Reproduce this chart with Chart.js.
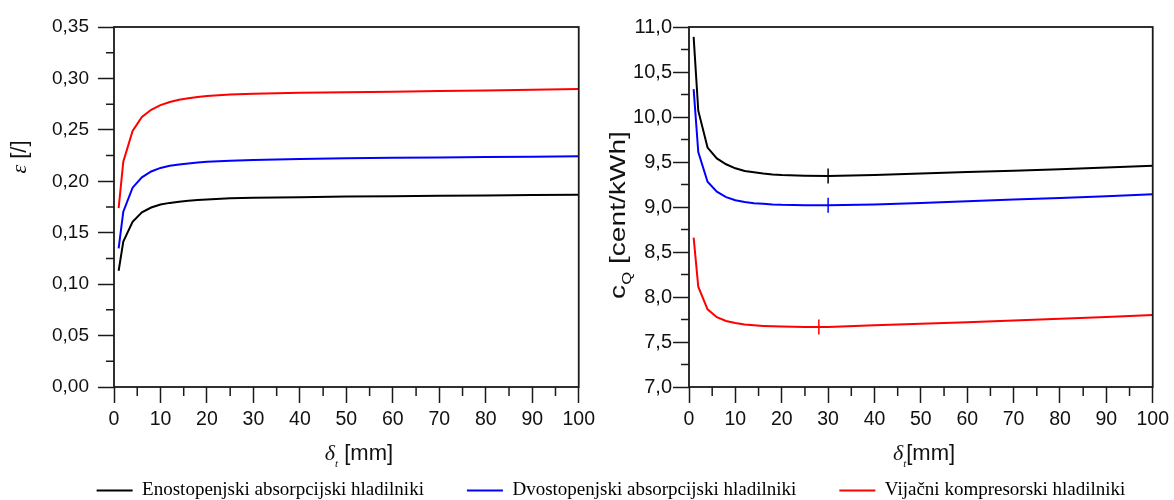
<!DOCTYPE html>
<html><head><meta charset="utf-8">
<script src="https://cdn.jsdelivr.net/npm/chart.js@4.4.1/dist/chart.umd.min.js"></script>
<style>
html,body{margin:0;padding:0;background:#fff;width:1174px;height:500px;overflow:hidden;position:relative;}
canvas{position:absolute;}
</style></head><body>
<canvas id="c1" width="600" height="470" style="left:0;top:0;width:600px;height:470px"></canvas>
<canvas id="c2" width="587" height="470" style="left:587px;top:0;width:587px;height:470px"></canvas>
<canvas id="c3" width="1174" height="150" style="left:0;top:438px;width:1174px;height:150px"></canvas>
<script>
// ---- data ----
const seriesNames = ['Enostopenjski absorpcijski hladilniki', 'Dvostopenjski absorpcijski hladilniki', 'Vijačni kompresorski hladilniki'];
const seriesColors = ['#000000', '#0000ff', '#ff0000'];
const xValues = [1, 2, 4, 6, 8, 10, 12, 14, 16, 18, 20, 25, 30, 40, 50, 60, 70, 80, 90, 100];
const epsSingle = [0.113, 0.1413, 0.1607, 0.1698, 0.1745, 0.1775, 0.1790, 0.1802, 0.1810, 0.1818, 0.1824, 0.1834, 0.1840, 0.1846, 0.1851, 0.1855, 0.1859, 0.1863, 0.1866, 0.1870];
const epsDouble = [0.1348, 0.1705, 0.1938, 0.2038, 0.2095, 0.2130, 0.2150, 0.2163, 0.2173, 0.2182, 0.2189, 0.2199, 0.2207, 0.2216, 0.2223, 0.2228, 0.2232, 0.2236, 0.2239, 0.2243];
const epsScrew = [0.174, 0.219, 0.249, 0.2625, 0.2695, 0.274, 0.277, 0.2792, 0.2808, 0.282, 0.2828, 0.2843, 0.2852, 0.2860, 0.2866, 0.2871, 0.2877, 0.2883, 0.289, 0.2897];
const cqSingle = [10.89, 10.07, 9.66, 9.54, 9.475, 9.43, 9.40, 9.385, 9.372, 9.362, 9.355, 9.348, 9.345, 9.355, 9.372, 9.388, 9.403, 9.42, 9.44, 9.459];
const cqDouble = [10.31, 9.61, 9.28, 9.17, 9.11, 9.075, 9.055, 9.043, 9.035, 9.028, 9.024, 9.02, 9.019, 9.027, 9.045, 9.063, 9.082, 9.10, 9.12, 9.141];
const cqScrew = [8.66, 8.115, 7.863, 7.775, 7.733, 7.71, 7.695, 7.686, 7.679, 7.674, 7.671, 7.668, 7.667, 7.685, 7.703, 7.72, 7.738, 7.758, 7.778, 7.80];
const optX = [30, 30, 28];
const optY = [9.345, 9.019, 7.667];
const xTicksMajor = [0, 10, 20, 30, 40, 50, 60, 70, 80, 90, 100];

// ---- helpers ----
const pts = (ys) => xValues.map((x, i) => ({x: x, y: ys[i]}));
const SANS = "'Liberation Sans', Arial, sans-serif";
const SERIF = "'Liberation Serif', 'Times New Roman', serif";

function drawParts(ctx, parts, cx, baseY) {
  let total = 0;
  parts.forEach(p => { ctx.font = p.font; p.w = ctx.measureText(p.text).width; total += p.w; });
  let x = cx - total / 2;
  ctx.textAlign = 'left';
  ctx.textBaseline = 'alphabetic';
  ctx.fillStyle = '#111';
  parts.forEach(p => { ctx.font = p.font; ctx.fillText(p.text, x, baseY + (p.dy || 0)); x += p.w; });
}

function makeDeco(cfg) {
  return {
    id: 'deco',
    afterDraw(chart) {
      const ctx = chart.ctx, a = chart.chartArea;
      const xs = chart.scales.x, ys = chart.scales.y;
      ctx.save();
      ctx.strokeStyle = '#1a1a1a';
      ctx.lineWidth = 1.8;
      ctx.strokeRect(a.left, a.top, a.right - a.left, a.bottom - a.top);
      ctx.lineWidth = 1.5;
      ctx.beginPath();
      for (let v = 5; v < 100; v += 10) {
        const px = xs.getPixelForValue(v);
        ctx.moveTo(px, a.bottom); ctx.lineTo(px, a.bottom + 9);
      }
      cfg.yMinor.forEach(v => {
        const py = ys.getPixelForValue(v);
        ctx.moveTo(a.left - 8, py); ctx.lineTo(a.left, py);
      });
      ctx.stroke();
      drawParts(ctx, cfg.xTitle, cfg.xTitlePos[0], cfg.xTitlePos[1]);
      ctx.save();
      ctx.translate(cfg.yTitlePos[0], cfg.yTitlePos[1]);
      ctx.rotate(-Math.PI / 2);
      ctx.scale(cfg.yStretch || 1, 1);
      drawParts(ctx, cfg.yTitle, 0, 8);
      ctx.restore();
      ctx.restore();
    }
  };
}

function xScale() {
  return {
    type: 'linear', min: 0, max: 100,
    afterBuildTicks: (s) => { s.ticks = xTicksMajor.map(v => ({value: v})); },
    ticks: { font: {family: SANS, size: 19.5}, color: '#111', padding: 5, maxRotation: 0, autoSkip: false },
    grid: { drawOnChartArea: false, drawTicks: true, tickLength: 16, tickColor: '#1a1a1a', tickWidth: 1.5, color: '#1a1a1a' },
    border: { display: false },
    afterFit: (s) => { s.height = 83; }
  };
}

const common = {
  responsive: false, animation: false, devicePixelRatio: 1,
  plugins: { legend: { display: false }, tooltip: { enabled: false } },
  elements: { point: { radius: 0 }, line: { tension: 0, borderWidth: 2 } }
};

// ---- left chart ----
const minorEps = [];
for (let k = 0; k < 7; k++) minorEps.push(0.025 + 0.05 * k);
new Chart(document.getElementById('c1'), {
  type: 'line',
  data: { datasets: [
    { label: seriesNames[0], data: pts(epsSingle), borderColor: seriesColors[0] },
    { label: seriesNames[1], data: pts(epsDouble), borderColor: seriesColors[1] },
    { label: seriesNames[2], data: pts(epsScrew), borderColor: seriesColors[2] }
  ]},
  options: Object.assign({}, common, {
    layout: { padding: { top: 27, right: 17, left: 0, bottom: 0 } },
    scales: {
      x: xScale(),
      y: {
        min: 0, max: 0.35,
        ticks: { stepSize: 0.05, font: {family: SANS, size: 19}, color: '#111', padding: 9,
          callback: (v) => Number(v).toFixed(2).replace('.', ',') },
        grid: { drawOnChartArea: false, drawTicks: true, tickLength: 16, tickColor: '#1a1a1a', tickWidth: 1.5, color: '#1a1a1a' },
        border: { display: false },
        afterFit: (s) => { s.width = 114; }
      }
    }
  }),
  plugins: [makeDeco({
    yMinor: minorEps,
    xTitle: [
      {text: 'δ', font: 'italic 22px ' + SERIF},
      {text: 't', font: 'italic 11px ' + SERIF, dy: 7},
      {text: ' [mm]', font: '22px ' + SANS}
    ],
    xTitlePos: [359, 460],
    yTitle: [
      {text: 'ε', font: 'italic 22px ' + SERIF},
      {text: ' [/]', font: '22px ' + SANS}
    ],
    yTitlePos: [18, 157]
  })]
});

// ---- right chart ----
const minorCq = [];
for (let k = 0; k < 8; k++) minorCq.push(7.25 + 0.5 * k);
new Chart(document.getElementById('c2'), {
  type: 'line',
  data: { datasets: [
    { label: seriesNames[0], data: pts(cqSingle), borderColor: seriesColors[0] },
    { label: seriesNames[1], data: pts(cqDouble), borderColor: seriesColors[1] },
    { label: seriesNames[2], data: pts(cqScrew), borderColor: seriesColors[2] },
    { label: 'optimum', data: optX.map((x, i) => ({x: x, y: optY[i]})), showLine: false,
      pointStyle: 'line', rotation: 90, pointRadius: 7.5, pointBorderWidth: 1.5,
      pointBorderColor: seriesColors, borderColor: seriesColors }
  ]},
  options: Object.assign({}, common, {
    layout: { padding: { top: 27, right: 17, left: 0, bottom: 0 } },
    scales: {
      x: xScale(),
      y: {
        min: 7, max: 11,
        ticks: { stepSize: 0.5, font: {family: SANS, size: 20}, color: '#111', padding: 1,
          callback: (v) => Number(v).toFixed(1).replace('.', ',') },
        grid: { drawOnChartArea: false, drawTicks: true, tickLength: 16, tickColor: '#1a1a1a', tickWidth: 1.5, color: '#1a1a1a' },
        border: { display: false },
        afterFit: (s) => { s.width = 102; }
      }
    }
  }),
  plugins: [makeDeco({
    yMinor: minorCq,
    xTitle: [
      {text: 'δ', font: 'italic 22px ' + SERIF},
      {text: 't', font: 'italic 11px ' + SERIF, dy: 7},
      {text: '[mm]', font: '22px ' + SANS}
    ],
    xTitlePos: [337, 460],
    yTitle: [
      {text: 'c', font: '22px ' + SANS},
      {text: 'Q', font: '13px ' + SANS, dy: 6},
      {text: ' [cent/kWh]', font: '22px ' + SANS}
    ],
    yTitlePos: [30, 215],
    yStretch: 1.28
  })]
});

// ---- shared legend ----
new Chart(document.getElementById('c3'), {
  type: 'line',
  data: { datasets: seriesNames.map((n, i) => ({ label: n, data: [], borderColor: seriesColors[i], borderWidth: 2 })) },
  options: {
    responsive: false, animation: false, devicePixelRatio: 1,
    layout: { padding: { left: 48, top: 0, right: 0, bottom: 0 } },
    scales: { x: { display: false }, y: { display: false } },
    plugins: {
      tooltip: { enabled: false },
      legend: {
        display: true, position: 'top',
        labels: { usePointStyle: true, pointStyle: 'line', pointStyleWidth: 36,
          font: { family: SERIF, size: 19 }, color: '#000', padding: 43 }
      }
    }
  }
});
</script>
</body></html>
